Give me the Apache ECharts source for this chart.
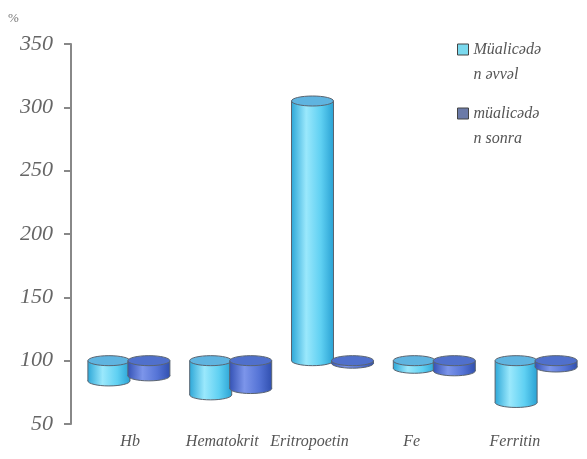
<!DOCTYPE html>
<html><head><meta charset="utf-8">
<script src="https://cdn.jsdelivr.net/npm/echarts@6/dist/echarts.min.js"></script>
<style>html,body{margin:0;padding:0;background:#fff}#c{width:587px;height:459px}</style>
</head><body><div id="c"></div>
<script>
const categories = ['Hb', 'Hematokrit', 'Eritropoetin', 'Fe', 'Ferritin'];
const before = [84, 73, 305, 94, 67];
const after = [88, 78, 98, 92, 95];
const seriesNames = ['Müalicədə\nn əvvəl', 'müalicədə\nn sonra'];
const yTicks = [50, 100, 150, 200, 250, 300, 350];

const palettes = [
  {body: ['#2fa8d8', '#9ae8fc', '#5fd0f2', '#2aa2d4'], top: '#5fb4e0', legend: '#7ad9ee'},
  {body: ['#3553b6', '#7c95ea', '#5574d6', '#3150b0'], top: '#5070cc', legend: '#6b7aa8'}
];

function makeRender(si) {
  return function (params, api) {
    const idx = api.value(0), v = api.value(1);
    const p0 = api.coord([idx, 100]);
    const p1 = api.coord([idx, v]);
    const w = 42, ry = 5;
    const cx = p0[0] + (si === 0 ? -20 : 20);
    const yTop = Math.min(p0[1], p1[1]);
    const yBot = Math.max(p0[1], p1[1]);
    const pal = palettes[si].body;
    const grad = new echarts.graphic.LinearGradient(0, 0, 1, 0, [
      {offset: 0, color: pal[0]}, {offset: 0.35, color: pal[1]},
      {offset: 0.7, color: pal[2]}, {offset: 1, color: pal[3]}
    ]);
    const stroke = '#5a6470';
    return {
      type: 'group',
      children: [
        {type: 'ellipse', shape: {cx: cx, cy: yBot, rx: w / 2, ry: ry},
         style: {fill: grad, stroke: stroke, lineWidth: 1}},
        {type: 'rect', shape: {x: cx - w / 2, y: yTop, width: w, height: yBot - yTop},
         style: {fill: grad}},
        {type: 'line', shape: {x1: cx - w / 2, y1: yTop, x2: cx - w / 2, y2: yBot},
         style: {stroke: stroke, lineWidth: 1}},
        {type: 'line', shape: {x1: cx + w / 2, y1: yTop, x2: cx + w / 2, y2: yBot},
         style: {stroke: stroke, lineWidth: 1}},
        {type: 'ellipse', shape: {cx: cx, cy: yTop, rx: w / 2, ry: ry},
         style: {fill: palettes[si].top, stroke: stroke, lineWidth: 1}}
      ]
    };
  };
}

const font = '"Liberation Serif", "DejaVu Serif", serif';
const chart = echarts.init(document.getElementById('c'));
chart.setOption({
  backgroundColor: '#fff',
  animation: false,
  graphic: [{type: 'text', left: 8, top: 12,
    style: {text: '%', fill: '#777', font: '13px ' + font}}],
  legend: {
    orient: 'vertical', left: 452, top: 7, itemWidth: 11, itemHeight: 11, itemGap: -11,
    icon: 'rect',
    formatter: name => ' \n' + name,
    data: seriesNames.map((n, i) => ({name: n, itemStyle: {color: palettes[i].legend, borderColor: '#444', borderWidth: 1}})),
    textStyle: {fontFamily: font, fontStyle: 'italic', fontSize: 16, color: '#555', lineHeight: 25},
    selectedMode: false
  },
  grid: [
    {left: 78, top: 44, width: 521, bottom: 35},
    {left: 82, top: 44, width: 481, bottom: 35}
  ],
  xAxis: [
    {type: 'category', gridIndex: 0, data: categories, axisLine: {show: false}, axisTick: {show: false}, axisLabel: {show: false}},
    {type: 'category', gridIndex: 1, data: categories, axisLine: {show: false}, axisTick: {show: false},
     axisLabel: {interval: 0, margin: 10, fontFamily: font, fontStyle: 'italic', fontSize: 16, color: '#555',
       formatter: (v, i) => '{c' + i + '|' + v + '}',
       rich: {c0: {}, c1: {padding: [0, 8, 0, 0]}, c2: {padding: [0, 26, 0, 0]}, c3: {padding: [0, 14, 0, 0]}, c4: {}}}}
  ],
  yAxis: [
    {type: 'value', gridIndex: 0, min: yTicks[0], max: yTicks[yTicks.length - 1], interval: 50, offset: 7,
     axisLine: {show: true, lineStyle: {color: '#888', width: 2}},
     axisTick: {show: true, length: 7, lineStyle: {color: '#888', width: 2}},
     splitLine: {show: false},
     axisLabel: {margin: 18, fontFamily: font, fontStyle: 'italic', fontSize: 22, color: '#666'}},
    {type: 'value', gridIndex: 1, min: 50, max: 350, show: false}
  ],
  series: [
    {name: seriesNames[0], type: 'custom', xAxisIndex: 0, yAxisIndex: 0, renderItem: makeRender(0),
     itemStyle: {color: palettes[0].legend}, data: before.map((v, i) => [i, v]), z: 2},
    {name: seriesNames[1], type: 'custom', xAxisIndex: 0, yAxisIndex: 0, renderItem: makeRender(1),
     itemStyle: {color: palettes[1].legend}, data: after.map((v, i) => [i, v]), z: 3}
  ]
});
</script></body></html>
